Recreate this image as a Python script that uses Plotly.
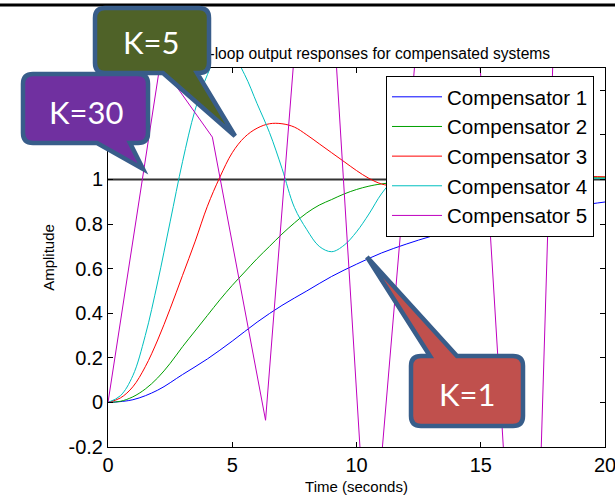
import plotly.graph_objects as go

# ---------------- data ----------------
SERIES_NAMES = ["Compensator 1", "Compensator 2", "Compensator 3", "Compensator 4", "Compensator 5"]

t_comp1 = [0, 1, 2, 3, 4, 5, 6, 7, 8, 9, 10, 11, 12, 13, 14, 15, 16, 17, 18, 19, 20]
y_comp1 = [0, 0.012, 0.055, 0.125, 0.195, 0.275, 0.36, 0.435, 0.5, 0.565, 0.62, 0.67,
           0.71, 0.745, 0.775, 0.805, 0.83, 0.85, 0.868, 0.884, 0.899]

t_comp2 = [0, 0.5, 1, 1.5, 2, 2.5, 3, 3.5, 4, 4.5, 5, 5.5, 6, 6.5, 7, 7.5, 8, 8.5, 9, 9.5,
           10, 10.5, 11, 12, 13, 14, 15, 16, 17, 18, 19, 20]
y_comp2 = [0, 0.005, 0.025, 0.06, 0.11, 0.175, 0.25, 0.32, 0.39, 0.46, 0.525, 0.585, 0.645,
           0.7, 0.755, 0.805, 0.85, 0.885, 0.91, 0.935, 0.955, 0.97, 0.98, 0.992, 1.0, 1.005,
           1.008, 1.01, 1.01, 1.01, 1.01, 1.01]

t_comp3 = [0, 0.5, 1, 1.5, 2, 2.5, 3, 3.5, 4, 4.5, 5, 5.5, 6, 6.5, 7, 7.5, 8, 8.5, 9, 9.5,
           10, 10.5, 11, 11.5, 12, 13, 14, 15, 16, 17, 18, 19, 20]
y_comp3 = [0, 0.02, 0.07, 0.16, 0.28, 0.42, 0.57, 0.72, 0.88, 1.01, 1.12, 1.19, 1.23, 1.25,
           1.25, 1.235, 1.2, 1.16, 1.12, 1.08, 1.04, 1.005, 0.98, 0.97, 0.97, 0.98, 0.995,
           1.005, 1.012, 1.015, 1.015, 1.014, 1.012]

t_comp4 = [0, 0.5, 1, 1.5, 2, 2.5, 3, 3.5, 4, 4.5, 5, 5.5, 6, 6.5, 7, 7.5, 8, 8.5, 9, 9.5,
           10, 10.5, 11, 11.5, 12, 13, 14, 15, 16, 17, 18, 19, 20]
y_comp4 = [0, 0.03, 0.12, 0.3, 0.54, 0.81, 1.08, 1.31, 1.47, 1.575, 1.56, 1.47, 1.34, 1.21,
           1.05, 0.875, 0.775, 0.70, 0.676, 0.705, 0.765, 0.845, 0.935, 1.0, 1.04, 1.06, 1.04,
           1.01, 0.99, 0.99, 1.0, 1.005, 1.005]

t_comp5 = [0, 2.1, 4.2, 6.34, 8.43, 10.52, 13.87, 16.93, 20]
y_comp5 = [0, 1.52, 1.19, -0.08, 2.89, -0.89, 3.53, -2.07, 9.3]

REFERENCE_LEVEL = 1.0
X_TICKS = [0, 5, 10, 15, 20]
Y_TICKS = [-0.2, 0, 0.2, 0.4, 0.6, 0.8, 1, 1.2, 1.4]
# 1.2 and 1.4 are hidden under the callouts in the reference
Y_TICK_LABELS = ["-0.2", "0", "0.2", "0.4", "0.6", "0.8", "1", "", ""]

TITLE = "Closed-loop output responses for compensated systems"
X_TITLE = "Time (seconds)"
Y_TITLE = "Amplitude"
CALLOUT_TEXTS = ["K=5", "K=30", "K=1"]

# ---------------- layout geometry ----------------
W, H = 615, 495
ML, MR, MT, MB = 108, 10, 68, 48
PW, PH = W - ML - MR, H - MT - MB


def px(x):
    return (x - ML) / PW


def py(y):
    return (H - MB - y) / PH


COLORS = ["#0000ff", "#00a000", "#ff0000", "#00bfbf", "#bf00bf"]
FONT = "Liberation Sans, Arial, sans-serif"

fig = go.Figure()

data = [(t_comp1, y_comp1), (t_comp2, y_comp2), (t_comp3, y_comp3), (t_comp4, y_comp4), (t_comp5, y_comp5)]
for i, (tt, yy) in enumerate(data):
    shape = "linear" if i == 4 else "spline"
    fig.add_trace(go.Scatter(x=tt, y=yy, mode="lines", name=SERIES_NAMES[i],
                             line=dict(color=COLORS[i], width=1, shape=shape)))


def callout_path(x0, y0, x1, y1, r, side, a, b, tip):
    """rounded rectangle (pixel coords) with a pointer; returns paper-coord SVG path"""
    def P(x, y):
        return f"{px(x):.5f},{py(y):.5f}"
    d = f"M{P(x0 + r, y0)}"
    if side == "top":
        d += f" L{P(a, y0)} L{P(*tip)} L{P(b, y0)}"
    d += f" L{P(x1 - r, y0)} Q{P(x1, y0)} {P(x1, y0 + r)}"
    d += f" L{P(x1, y1 - r)} Q{P(x1, y1)} {P(x1 - r, y1)}"
    if side == "bottom":
        d += f" L{P(b, y1)} L{P(*tip)} L{P(a, y1)}"
    d += f" L{P(x0 + r, y1)} Q{P(x0, y1)} {P(x0, y1 - r)}"
    d += f" L{P(x0, y0 + r)} Q{P(x0, y0)} {P(x0 + r, y0)} Z"
    return d


shapes = []
# steady-state reference line (data coordinates)
shapes.append(dict(type="line", xref="x", yref="y", x0=X_TICKS[0], x1=X_TICKS[-1],
                   y0=REFERENCE_LEVEL, y1=REFERENCE_LEVEL, layer="below",
                   line=dict(color="#333333", width=2)))
# top black rule of the slide
shapes.append(dict(type="line", xref="paper", yref="paper", x0=px(0), x1=px(W), y0=py(5), y1=py(5),
                   line=dict(color="black", width=3)))
# title as a shape label so callouts can overlap it
shapes.append(dict(type="rect", xref="paper", yref="paper", x0=px(180), x1=px(531), y0=py(60), y1=py(44),
                   line=dict(width=0), fillcolor="rgba(0,0,0,0)",
                   label=dict(text=TITLE, font=dict(family=FONT, size=15.6, color="black"),
                              textposition="middle center")))

BORDER = "#385D8A"
callouts = [
    # (x0, y0, x1, y1, side, a, b, tip, fill, text center)
    (95, 8, 209, 73, "bottom", 163, 197, (235, 136), "#4F6228", (151, 42)),
    (23, 74, 148, 143, "bottom", 97, 130, (143, 169), "#7030A0", (86, 112)),
    (411, 356, 523, 426, "top", 430, 457, (367, 257), "#C0504D", (467, 394)),
]
annotations = []
for (x0, y0, x1, y1, side, a, b, tip, fill, c), txt in zip(callouts, CALLOUT_TEXTS):
    shapes.append(dict(type="path", xref="paper", yref="paper",
                       path=callout_path(x0, y0, x1, y1, 10, side, a, b, tip),
                       fillcolor=fill, line=dict(color=BORDER, width=4.5), layer="above"))
    annotations.append(dict(xref="paper", yref="paper", x=px(c[0]), y=py(c[1]), text=txt,
                            showarrow=False, xanchor="center", yanchor="middle",
                            font=dict(family="Lato, Open Sans, sans-serif", size=31, color="white")))

fig.update_layout(
    width=W, height=H,
    margin=dict(l=ML, r=MR, t=MT, b=MB, pad=0, autoexpand=False),
    paper_bgcolor="white", plot_bgcolor="white",
    shapes=shapes, annotations=annotations,
    font=dict(family=FONT, color="black"),
    legend=dict(x=px(386), y=py(76), xanchor="left", yanchor="top",
                bgcolor="white", bordercolor="black", borderwidth=1,
                font=dict(family=FONT, size=20.5, color="black"),
                itemwidth=50, tracegroupgap=0),
)
fig.update_xaxes(range=[0, 20], tickvals=X_TICKS, ticktext=[str(v) for v in X_TICKS],
                 automargin=False,
                 showgrid=False, zeroline=False, showline=True, linecolor="black", linewidth=1,
                 mirror="ticks", ticks="inside", ticklen=5, tickcolor="black",
                 ticklabeloverflow="allow", ticklabelstandoff=0,
                 tickfont=dict(family=FONT, size=20, color="black"),
                 title=dict(text=X_TITLE, font=dict(family=FONT, size=15), standoff=14))
fig.update_yaxes(range=[-0.2, 1.5], tickvals=Y_TICKS, ticktext=Y_TICK_LABELS,
                 automargin=False,
                 showgrid=False, zeroline=False, showline=True, linecolor="black", linewidth=1,
                 mirror="ticks", ticks="inside", ticklen=5, tickcolor="black",
                 tickfont=dict(family=FONT, size=20, color="black"),
                 title=dict(text=Y_TITLE, font=dict(family=FONT, size=15), standoff=10))

fig.write_html("out.html")
